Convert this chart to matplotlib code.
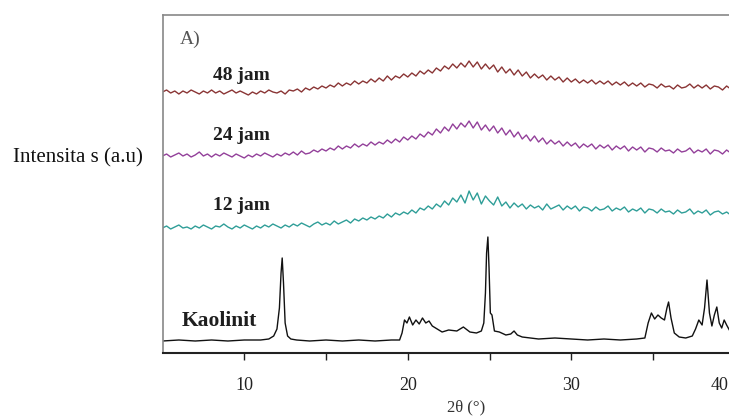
import numpy as np
import matplotlib
matplotlib.use("Agg")
import matplotlib.pyplot as plt
from matplotlib.transforms import ScaledTranslation

# ---------------- data (intensity in arbitrary units) ----------------
hump_2theta = [5.0 + 0.25 * i for i in range(143)]

jam12 = [125,127,124,126, 128,125,126,124, 127,125,128,126, 124,127,126,129,
         126,124,127,125, 128,126,124,127, 125,128,126,129, 127,125,128,126,
         129,127,130,128, 126,129,131,128, 130,128,132,129, 131,133,130,134,
         132,135,133,136, 134,137,135,139, 136,140,138,141, 139,143,140,145,
         143,147,144,149, 146,152,148,155, 151,158,150,162, 153,160,149,157,
         152,148,156,147, 151,145,150,146, 149,144,148,145, 147,143,149,144,
         146,148,143,147, 144,147,142,146, 145,142,146,143, 144,147,142,145,
         143,146,141,144, 142,145,140,144, 143,140,144,141, 142,139,143,140,
         141,144,139,142, 140,143,138,141, 142,139,141,138, 140,137,139]

jam24 = [197,199,196,198, 200,197,199,196, 198,201,197,199, 196,199,197,200,
         198,196,199,197, 195,198,196,199, 197,200,198,196, 199,197,200,198,
         201,198,202,199, 200,203,201,204, 202,205,203,207, 204,207,205,209,
         206,209,207,211, 208,211,209,213, 210,214,211,216, 213,217,214,219,
         216,221,218,224, 220,226,222,229, 224,230,226,232, 225,231,223,228,
         222,227,220,225, 218,223,216,221, 214,218,212,217, 211,215,209,213,
         209,212,207,211, 207,210,205,209, 206,209,204,208, 205,208,203,207,
         204,207,202,206, 203,206,201,205, 204,201,205,202, 203,200,204,201,
         202,205,200,203, 201,204,199,203, 202,199,203,200, 201,198,202]

jam48 = [261,263,260,262, 259,262,260,263, 261,259,262,260, 263,260,262,259,
         261,263,260,262, 260,258,261,259, 262,260,263,261, 260,262,259,263,
         262,264,261,265, 263,266,264,267, 265,268,266,270, 267,270,268,272,
         269,272,270,274, 271,275,272,277, 273,277,275,279, 276,280,277,282,
         279,283,280,285, 282,287,284,289, 285,290,286,292, 286,291,284,289,
         284,288,281,286, 280,284,278,283, 277,281,275,279, 275,278,273,277,
         273,276,271,275, 271,274,270,273, 270,273,269,272, 269,272,268,271,
         268,271,267,270, 267,270,266,269, 268,265,269,266, 267,264,268,265,
         266,269,265,268, 265,268,264,267, 266,263,267,264, 265,262,266]

kaolinit_2theta = [5.0, 6.0, 7.0, 8.0, 9.0, 10.0, 11.0, 11.5, 11.8, 12.0,
                   12.15, 12.25, 12.32, 12.4, 12.5, 12.65, 12.85, 13.2, 14.0, 15.0,
                   16.0, 17.0, 18.0, 19.0, 19.5, 19.65, 19.8, 19.95, 20.1, 20.3,
                   20.5, 20.7, 20.9, 21.1, 21.3, 21.5, 21.8, 22.1, 22.5, 23.0,
                   23.4, 23.8, 24.2, 24.5, 24.65, 24.75, 24.82, 24.9, 24.97, 25.05,
                   25.15, 25.3, 25.6, 26.0, 26.3, 26.5, 26.7, 27.0, 27.5, 28.0,
                   29.0, 30.0, 31.0, 32.0, 33.0, 34.0, 34.5, 34.7, 34.9, 35.1,
                   35.3, 35.5, 35.7, 35.85, 35.95, 36.1, 36.3, 36.6, 37.0, 37.4,
                   37.6, 37.8, 38.0, 38.15, 38.3, 38.45, 38.6, 38.75, 38.9, 39.05,
                   39.2, 39.35, 39.5, 39.7, 40.0, 40.3]
kaolinit_int = [12, 13, 12, 13, 12, 13, 13, 14, 17, 24,
                45, 80, 95, 70, 30, 17, 14, 13, 12, 13,
                12, 13, 12, 13, 13, 20, 33, 30, 36, 28,
                33, 29, 35, 30, 32, 27, 24, 21, 23, 22,
                26, 21, 20, 22, 30, 60, 100, 116, 85, 40,
                38, 22, 21, 18, 19, 22, 18, 16, 15, 14,
                15, 14, 13, 14, 13, 14, 15, 30, 40, 34,
                38, 35, 33, 45, 51, 35, 20, 16, 15, 17,
                24, 33, 28, 45, 73, 40, 27, 38, 46, 30,
                25, 33, 28, 22, 20, 18]

series_labels = ["48 jam", "24 jam", "12 jam", "Kaolinit"]
series_colors = ["#8a3535", "#93409a", "#2f9e98", "#111111"]
xticks_major = [10, 20, 30, 40]
xticks_minor = [15, 25, 35]

# ---------------- figure ----------------
W, H = 729, 417
fig = plt.figure(figsize=(W / 100, H / 100), dpi=100)
serif = ["Liberation Serif", "DejaVu Serif"]

left_px, right_px, top_px, bot_px = 162.5, 739.7, 15, 353
ax = fig.add_axes([left_px / W, 1 - bot_px / H,
                   (right_px - left_px) / W, (bot_px - top_px) / H])
ax.set_xlim(5, 40.3)
ax.set_ylim(0, 338)

ax.plot(hump_2theta, jam48, color=series_colors[0], lw=1.0)
ax.plot(hump_2theta, jam24, color=series_colors[1], lw=1.0)
ax.plot(hump_2theta, jam12, color=series_colors[2], lw=1.0)
ax.plot(kaolinit_2theta, kaolinit_int, color=series_colors[3], lw=1.0)

label_pos = [(9.85, 278), (9.85, 218), (9.85, 148), (8.46, 31.5)]
label_size = [14, 14, 14, 15.5]
for lab, (lx, ly), fs in zip(series_labels, label_pos, label_size):
    ax.text(lx, ly, lab, ha="center", va="center", fontsize=fs,
            fontweight="bold", family=serif, color="#1e1e1e")

ax.text(6.05, 314, "A)", ha="left", va="center", fontsize=14,
        family=serif, color="#555555")

ax.set_xticks(xticks_major)
ax.set_xticks(xticks_minor, minor=True)
ax.set_xticklabels([str(t) for t in xticks_major], family=serif, fontsize=13)
ax.tick_params(axis="x", which="both", direction="out", length=5, width=1,
               color="#222222", labelcolor="#222222", pad=12)
ax.set_yticks([])
# last tick label sits slightly inward so it stays inside the picture
last = ax.get_xticklabels()[-1]
last.set_transform(last.get_transform() +
                   ScaledTranslation(-15 / 100, 0, fig.dpi_scale_trans))

for s in ["top", "left"]:
    ax.spines[s].set_color("#888888")
    ax.spines[s].set_linewidth(1.2)
ax.spines["bottom"].set_color("#222222")
ax.spines["bottom"].set_linewidth(1.5)
ax.spines["right"].set_visible(False)

fig.text(466 / W, 1 - 407 / H, "2θ (°)", ha="center", va="center",
         fontsize=12, family=serif, color="#333333")
fig.text(13 / W, 1 - 158 / H, "Intensita s (a.u)", ha="left", va="center",
         fontsize=15, family=serif, color="#111111")

fig.savefig("out.png", dpi=100)
